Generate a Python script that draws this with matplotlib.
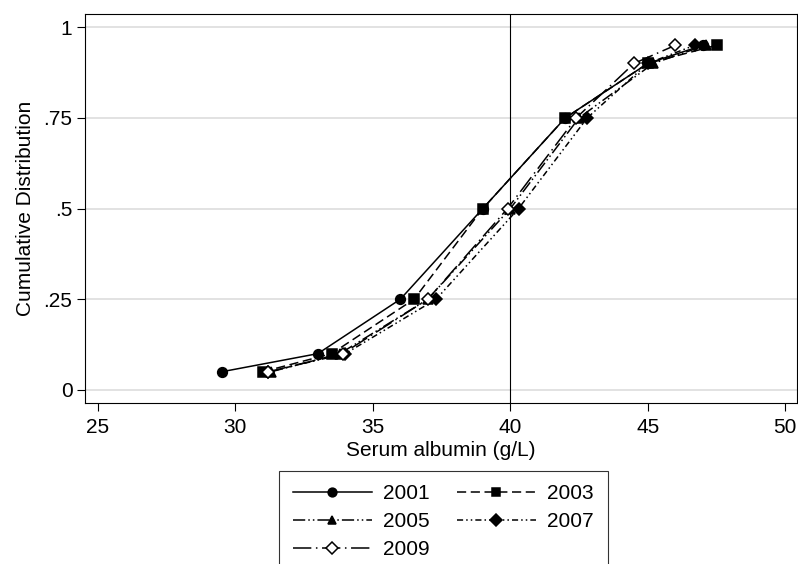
import numpy as np
import matplotlib
matplotlib.use("Agg")
import matplotlib.pyplot as plt

plt.rcParams['font.family'] = ['Liberation Sans', 'DejaVu Sans']

# cumulative distribution levels (percentiles)
cum = [0.05, 0.10, 0.25, 0.50, 0.75, 0.90, 0.95]

# serum albumin (g/L) at each level
alb_2001 = [29.5, 33.0, 36.0, 39.0, 42.0, 45.0, 47.0]
alb_2003 = [31.0, 33.5, 36.5, 39.0, 42.0, 45.0, 47.5]
alb_2005 = [31.3, 33.8, 37.0, 40.0, 42.5, 45.2, 47.1]
alb_2007 = [31.2, 34.0, 37.3, 40.3, 42.8, 45.0, 46.7]
alb_2009 = [31.2, 33.9, 37.0, 39.9, 42.4, 44.5, 46.0]

years = ['2001', '2003', '2005', '2007', '2009']
xticks = [25, 30, 35, 40, 45, 50]
yticks = [0, 0.25, 0.5, 0.75, 1]
ylabels = ['0', '.25', '.5', '.75', '1']

fig = plt.figure(figsize=(7.98, 5.64), dpi=100)
ax = fig.add_axes([0.1065, 0.2855, 0.892, 0.6895])

styles = [
    dict(marker='o', mfc='black', ls='-'),
    dict(marker='s', mfc='black', ls=(0, (6, 3))),
    dict(marker='^', mfc='black', ls=(0, (8, 2, 1, 2, 1, 2))),
    dict(marker='D', mfc='black', ls=(0, (4, 2, 1, 2, 1, 2))),
    dict(marker='D', mfc='white', ls=(0, (12, 3, 1, 3))),
]
series = [alb_2001, alb_2003, alb_2005, alb_2007, alb_2009]
lines = []
for yr, vals, st in zip(years, series, styles):
    ms = 6.5 if st['marker'] == 'D' else 7
    ln, = ax.plot(vals, cum, color='black', lw=1.1, marker=st['marker'],
                  markersize=ms, markerfacecolor=st['mfc'], markeredgecolor='black',
                  markeredgewidth=1.1, linestyle=st['ls'], label=yr)
    lines.append(ln)

ax.axvline(40, color='black', lw=0.8, zorder=1)

ax.set_xlim(24.53, 50.42)
ax.set_ylim(-0.036, 1.036)
ax.set_xticks(xticks)
ax.set_yticks(yticks)
ax.set_yticklabels(ylabels)
ax.yaxis.grid(True, color='#dddddd', lw=1.2)
ax.set_axisbelow(True)
ax.tick_params(labelsize=15, length=6, width=0.8, colors='black', pad=3)
ax.tick_params(axis='x', pad=5)
ax.set_xlabel('Serum albumin (g/L)', fontsize=15, labelpad=3)
ax.set_ylabel('Cumulative Distribution', fontsize=15, labelpad=6)
for s in ax.spines.values():
    s.set_linewidth(0.8)

# legend fills row by row: 2001 2003 / 2005 2007 / 2009
order = [0, 2, 4, 1, 3]
leg = fig.legend([lines[i] for i in order], [years[i] for i in order],
                 loc='upper left', bbox_to_anchor=(0.3496, 0.165), ncol=2,
                 fontsize=15, frameon=True, fancybox=False, edgecolor='black',
                 handlelength=3.8, handletextpad=0.55, columnspacing=1.3,
                 labelspacing=0.42, borderpad=0.65, borderaxespad=0,
                 markerscale=0.9)
leg.get_frame().set_linewidth(0.8)

fig.savefig('out.png', dpi=100)
